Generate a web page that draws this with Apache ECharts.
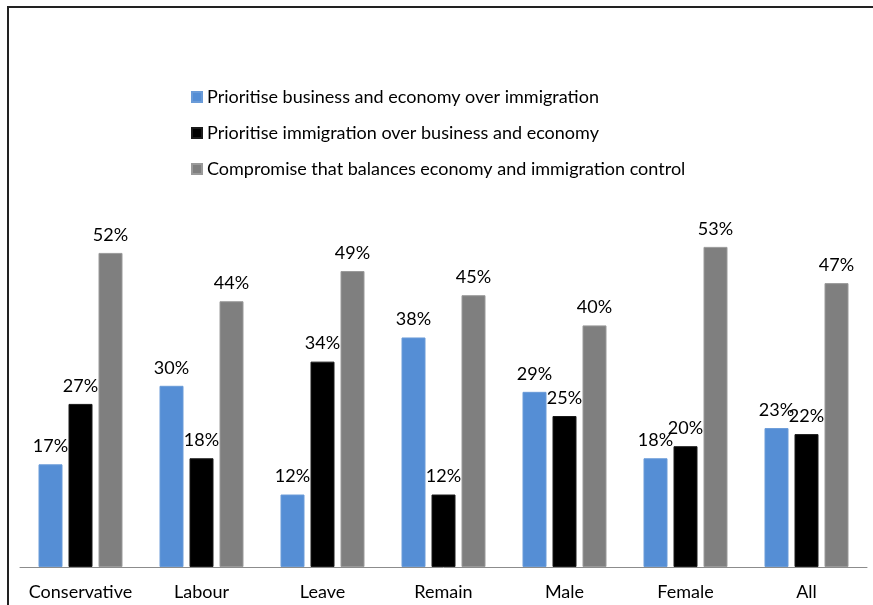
<!DOCTYPE html>
<html>
<head>
<meta charset="utf-8">
<script src="https://cdn.jsdelivr.net/npm/echarts@6/dist/echarts.min.js"></script>
<style>
  html, body { margin: 0; padding: 0; background: #fff; }
  #chart { width: 873px; height: 605px; }
</style>
</head>
<body>
<div id="chart"></div>
<script>
// Groups along the x axis
const categories = ['Conservative', 'Labour', 'Leave', 'Remain', 'Male', 'Female', 'All'];

// Share of respondents (%) choosing each option
const seriesNames = [
  'Prioritise business and economy over immigration',
  'Prioritise immigration over business and economy',
  'Compromise that balances economy and immigration control'
];
const businessFirst = [17, 30, 12, 38, 29, 18, 23];
const immigrationFirst = [27, 18, 34, 12, 25, 20, 22];
const compromise = [52, 44, 49, 45, 40, 53, 47];

const colors = ['#558ED5', '#000000', '#7F7F7F'];
const borders = ['#6A9BD8', '#1A1A1A', '#9A9A9A'];
const font = 'Lato, "Open Sans", sans-serif';

const seriesData = [businessFirst, immigrationFirst, compromise];

const chart = echarts.init(document.getElementById('chart'), null, { renderer: 'canvas' });

chart.setOption({
  animation: false,
  backgroundColor: '#ffffff',
  textStyle: { fontFamily: font },
  legend: {
    orient: 'vertical',
    left: 191,
    top: 88,
    padding: 0,
    itemWidth: 10,
    itemHeight: 10,
    itemGap: 18,
    icon: 'rect',
    textStyle: { fontFamily: font, fontSize: 18, color: '#000' },
    data: seriesNames
  },
  grid: { left: 20, right: 6, top: 204.6, bottom: 38, containLabel: false },
  xAxis: {
    type: 'category',
    data: categories,
    axisLine: { show: true, lineStyle: { color: '#8C8C8C', width: 1 } },
    axisTick: { show: false },
    axisLabel: { interval: 0, fontFamily: font, fontSize: 18, color: '#000', margin: 16 }
  },
  yAxis: {
    type: 'value',
    min: 0,
    max: 60,
    show: false,
    splitLine: { show: false }
  },
  series: seriesNames.map((name, i) => ({
    name,
    type: 'bar',
    data: seriesData[i],
    barWidth: 24,
    barGap: '25%',
    itemStyle: { color: colors[i], borderColor: borders[i], borderWidth: 1 },
    label: {
      show: true,
      position: 'top',
      distance: 9,
      formatter: '{c}%',
      fontFamily: font,
      fontSize: 18,
      color: '#000'
    }
  })),
  graphic: [
    { type: 'line', shape: { x1: 7, y1: 7, x2: 873, y2: 7 }, style: { stroke: '#222', lineWidth: 2 } },
    { type: 'line', shape: { x1: 8, y1: 7, x2: 8, y2: 605 }, style: { stroke: '#222', lineWidth: 2 } }
  ]
});
</script>
</body>
</html>
